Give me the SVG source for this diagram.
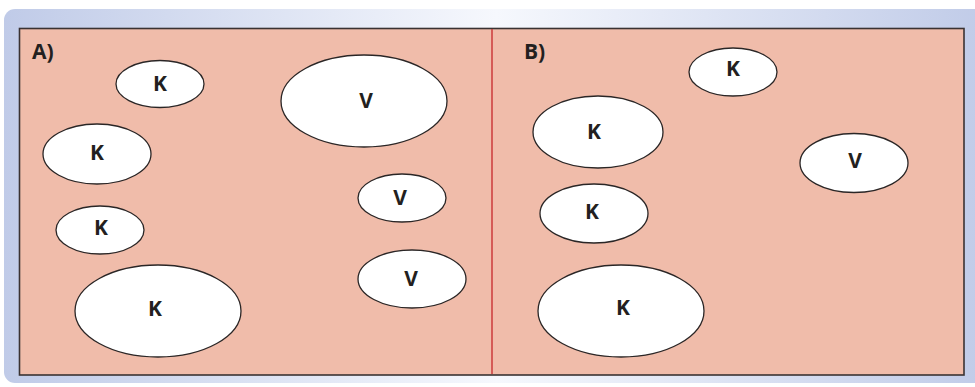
<svg xmlns="http://www.w3.org/2000/svg" width="975" height="387" viewBox="0 0 975 387">
<defs>
<linearGradient id="bg" x1="0" y1="0" x2="1" y2="0">
<stop offset="0" stop-color="#c0cbe8"/>
<stop offset="0.5" stop-color="#f6f8fd"/>
<stop offset="1" stop-color="#c0cbe8"/>
</linearGradient>
</defs>
<style>
.n ellipse{fill:#ffffff;stroke:#2a2626;stroke-width:1.3}
.n text, .lbl{font-family:"Open Sans","Liberation Sans",sans-serif;font-weight:bold;font-size:21px;fill:#231f20;text-anchor:middle;dominant-baseline:central}
.lbl{text-anchor:start}
</style>
<rect x="4" y="9" width="985" height="374" rx="11" fill="url(#bg)"/>
<rect x="19.5" y="28.5" width="944.5" height="346.5" fill="#f0bcaa" stroke="#3a3232" stroke-width="1.6"/>
<g id="connectors">
<line x1="492" y1="29" x2="492" y2="374" stroke="#cc3b3b" stroke-width="1.5"/>
</g>
<text class="lbl" x="32" y="51">A)</text>
<text class="lbl" x="524" y="51">B)</text>
<g id="a-k1" class="n"><ellipse cx="160" cy="84" rx="44" ry="23.5"/><text x="160" y="83">K</text></g>
<g id="a-v1" class="n"><ellipse cx="364" cy="101" rx="83" ry="46"/><text x="366" y="100">V</text></g>
<g id="a-k2" class="n"><ellipse cx="97" cy="154" rx="54" ry="30"/><text x="97" y="152">K</text></g>
<g id="a-v2" class="n"><ellipse cx="402" cy="198" rx="44" ry="24"/><text x="400" y="197">V</text></g>
<g id="a-k3" class="n"><ellipse cx="100" cy="230" rx="44" ry="24"/><text x="101" y="227">K</text></g>
<g id="a-v3" class="n"><ellipse cx="412" cy="279" rx="54" ry="29"/><text x="411" y="278">V</text></g>
<g id="a-k4" class="n"><ellipse cx="158" cy="311" rx="83" ry="46"/><text x="155" y="308">K</text></g>
<g id="b-k1" class="n"><ellipse cx="733" cy="72" rx="44" ry="24"/><text x="733" y="68">K</text></g>
<g id="b-k2" class="n"><ellipse cx="598" cy="132" rx="65" ry="36"/><text x="594" y="131">K</text></g>
<g id="b-v1" class="n"><ellipse cx="854" cy="163" rx="54" ry="29.5"/><text x="855" y="160">V</text></g>
<g id="b-k3" class="n"><ellipse cx="594" cy="213.5" rx="54" ry="29.5"/><text x="592" y="211">K</text></g>
<g id="b-k4" class="n"><ellipse cx="621" cy="311" rx="83" ry="46"/><text x="623" y="307">K</text></g>
</svg>
